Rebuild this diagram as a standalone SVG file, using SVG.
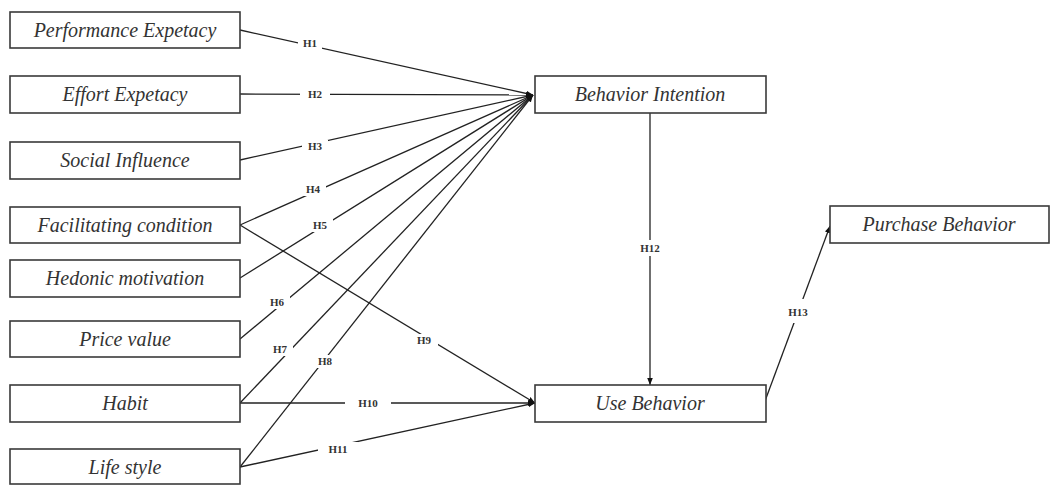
<svg xmlns="http://www.w3.org/2000/svg" width="1051" height="485" viewBox="0 0 1051 485">
<defs>
<style>
.box{fill:#fff;stroke:#3a3a3a;stroke-width:1.6}
.nt{font-family:"Liberation Serif","Times New Roman",serif;font-style:italic;font-size:20px;fill:#333;text-anchor:middle}
.ln{stroke:#222;stroke-width:1.3;fill:none}
.lb{font-family:"Liberation Serif","Times New Roman",serif;font-weight:bold;font-size:11px;fill:#333;text-anchor:middle}
.lbg{fill:#fff}
</style>
<marker id="ah" viewBox="0 0 10 10" refX="10" refY="5" markerWidth="7" markerHeight="7" orient="auto" markerUnits="userSpaceOnUse">
<path d="M0,1 L10,5 L0,9 z" fill="#111"/>
</marker>
</defs>
<rect width="1051" height="485" fill="#fff"/>
<g id="connectors">
<line class="ln" x1="240" y1="30" x2="533" y2="95" marker-end="url(#ah)"/>
<line class="ln" x1="240" y1="94" x2="533" y2="95" marker-end="url(#ah)"/>
<line class="ln" x1="240" y1="160" x2="533" y2="95" marker-end="url(#ah)"/>
<line class="ln" x1="240" y1="225" x2="533" y2="95" marker-end="url(#ah)"/>
<line class="ln" x1="240" y1="278" x2="533" y2="95" marker-end="url(#ah)"/>
<line class="ln" x1="240" y1="339" x2="533" y2="95" marker-end="url(#ah)"/>
<line class="ln" x1="240" y1="403" x2="533" y2="95" marker-end="url(#ah)"/>
<line class="ln" x1="240" y1="467" x2="533" y2="95" marker-end="url(#ah)"/>
<line class="ln" x1="240" y1="225" x2="535" y2="403" marker-end="url(#ah)"/>
<line class="ln" x1="240" y1="403" x2="535" y2="403" marker-end="url(#ah)"/>
<line class="ln" x1="240" y1="467" x2="535" y2="403" marker-end="url(#ah)"/>
<line class="ln" x1="650" y1="113" x2="650" y2="385" marker-end="url(#ah)"/>
<line class="ln" x1="765" y1="401" x2="830" y2="226" marker-end="url(#ah)"/>
<g id="labels">
<rect class="lbg" x="298" y="37" width="24" height="13"/><text class="lb" x="310" y="47">H1</text>
<rect class="lbg" x="300" y="88" width="30" height="13"/><text class="lb" x="315" y="98">H2</text>
<rect class="lbg" x="302" y="140" width="26" height="13"/><text class="lb" x="315" y="150">H3</text>
<rect class="lbg" x="300" y="183" width="26" height="13"/><text class="lb" x="313" y="193">H4</text>
<rect class="lbg" x="307" y="219" width="26" height="13"/><text class="lb" x="320" y="229">H5</text>
<rect class="lbg" x="264" y="296" width="26" height="13"/><text class="lb" x="277" y="306">H6</text>
<rect class="lbg" x="267" y="343" width="26" height="13"/><text class="lb" x="280" y="353">H7</text>
<rect class="lbg" x="312" y="355" width="26" height="13"/><text class="lb" x="325" y="365">H8</text>
<rect class="lbg" x="410" y="334" width="28" height="13"/><text class="lb" x="424" y="344">H9</text>
<rect class="lbg" x="345" y="396" width="46" height="13"/><text class="lb" x="368" y="407">H10</text>
<rect class="lbg" x="318" y="442" width="40" height="13"/><text class="lb" x="338" y="453">H11</text>
<rect class="lbg" x="636" y="240" width="28" height="16"/><text class="lb" x="650" y="252">H12</text>
<rect class="lbg" x="784" y="299" width="28" height="24"/><text class="lb" x="798" y="316">H13</text>
</g>
</g>
<g id="n-pe"><rect class="box" x="10" y="12" width="230" height="36"/><text class="nt" x="125" y="37">Performance Expetacy</text></g>
<g id="n-ee"><rect class="box" x="10" y="76" width="230" height="37"/><text class="nt" x="125" y="101">Effort Expetacy</text></g>
<g id="n-si"><rect class="box" x="10" y="142" width="230" height="37"/><text class="nt" x="125" y="167">Social Influence</text></g>
<g id="n-fc"><rect class="box" x="10" y="207" width="230" height="36"/><text class="nt" x="125" y="232">Facilitating condition</text></g>
<g id="n-hm"><rect class="box" x="10" y="260" width="230" height="37"/><text class="nt" x="125" y="285">Hedonic motivation</text></g>
<g id="n-pv"><rect class="box" x="10" y="321" width="230" height="36"/><text class="nt" x="125" y="346">Price value</text></g>
<g id="n-hb"><rect class="box" x="10" y="385" width="230" height="37"/><text class="nt" x="125" y="410">Habit</text></g>
<g id="n-ls"><rect class="box" x="10" y="449" width="230" height="35"/><text class="nt" x="125" y="474">Life style</text></g>
<g id="n-bi"><rect class="box" x="535" y="76" width="231" height="37"/><text class="nt" x="650" y="101">Behavior Intention</text></g>
<g id="n-ub"><rect class="box" x="535" y="385" width="231" height="37"/><text class="nt" x="650" y="410">Use Behavior</text></g>
<g id="n-pb"><rect class="box" x="830" y="206" width="219" height="37"/><text class="nt" x="939" y="231">Purchase Behavior</text></g>
</svg>
